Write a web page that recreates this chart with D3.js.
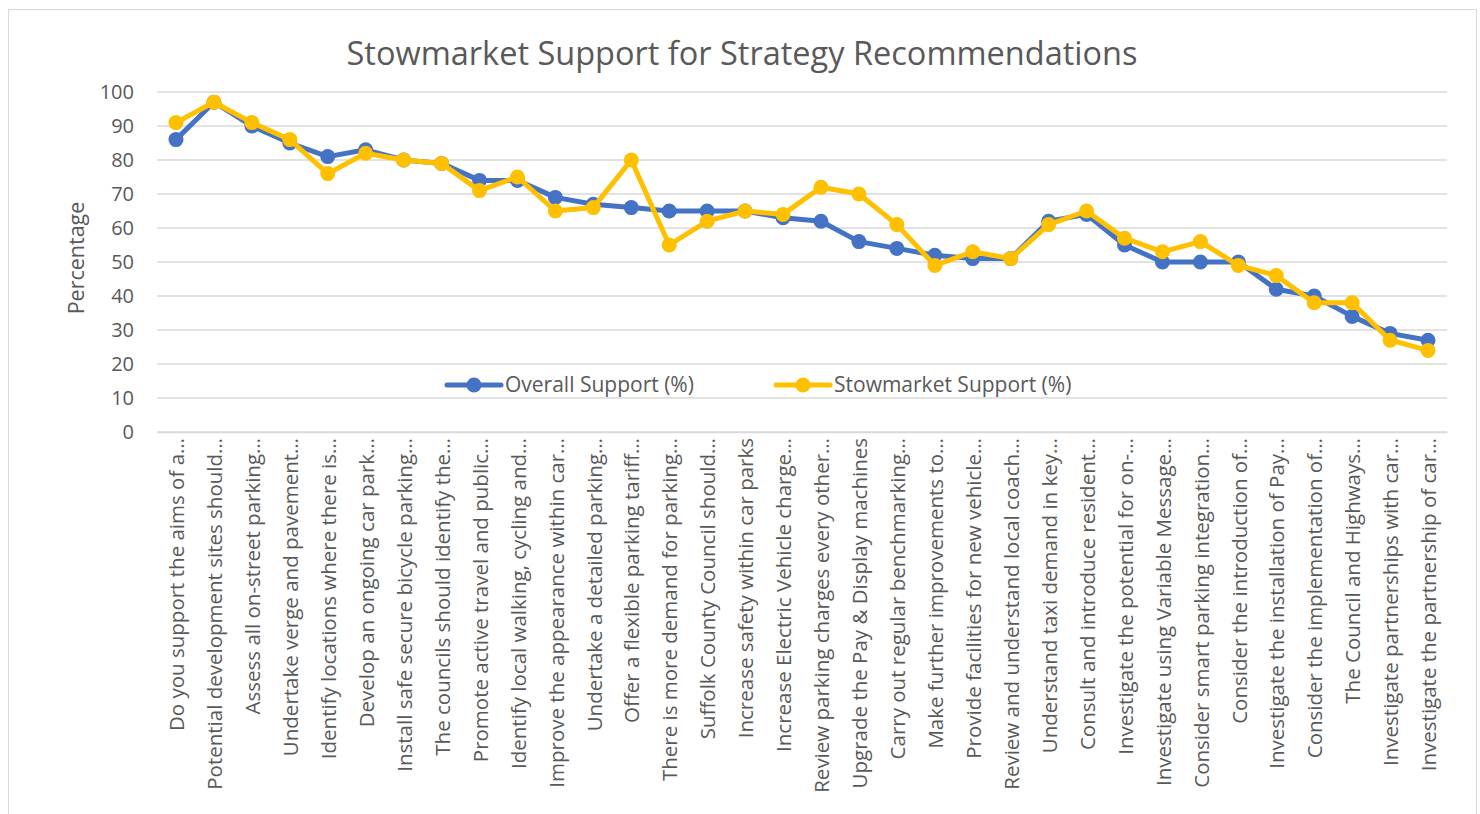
<!DOCTYPE html>
<html>
<head>
<meta charset="utf-8">
<script src="https://cdn.jsdelivr.net/npm/d3@7"></script>
<style>
  body { margin: 0; background: #fff; }
  svg { font-family: "Open Sans", sans-serif; }
</style>
</head>
<body>
<svg id="chart" width="1480" height="814"></svg>
<script>
// recommendations, in the order they appear on the x axis
const categories = [
    "Do you support the aims of a…",
    "Potential development sites should…",
    "Assess all on-street parking…",
    "Undertake verge and pavement…",
    "Identify locations where there is…",
    "Develop an ongoing car park…",
    "Install safe secure bicycle parking…",
    "The councils should identify the…",
    "Promote active travel and public…",
    "Identify local walking, cycling and…",
    "Improve the appearance within car…",
    "Undertake a detailed parking…",
    "Offer a flexible parking tariff…",
    "There is more demand for parking…",
    "Suffolk County Council should…",
    "Increase safety within car parks",
    "Increase Electric Vehicle charge…",
    "Review parking charges every other…",
    "Upgrade the Pay & Display machines",
    "Carry out regular benchmarking…",
    "Make further improvements to…",
    "Provide facilities for new vehicle…",
    "Review and understand local coach…",
    "Understand taxi demand in key…",
    "Consult and introduce resident…",
    "Investigate the potential for on-…",
    "Investigate using Variable Message…",
    "Consider smart parking integration…",
    "Consider the introduction of…",
    "Investigate the installation of Pay…",
    "Consider the implementation of…",
    "The Council and Highways…",
    "Investigate partnerships with car…",
    "Investigate the partnership of car…"
];

const overallSupport = [86, 97, 90, 85, 81, 83, 80, 79, 74, 74, 69, 67, 66, 65, 65, 65, 63,
    62, 56, 54, 52, 51, 51, 62, 64, 55, 50, 50, 50, 42, 40, 34, 29, 27];

const stowmarketSupport = [91, 97, 91, 86, 76, 82, 80, 79, 71, 75, 65, 66, 80, 55, 62, 65, 64,
    72, 70, 61, 49, 53, 51, 61, 65, 57, 53, 56, 49, 46, 38, 38, 27, 24];

const seriesNames = ["Overall Support (%)", "Stowmarket Support (%)"];
const seriesColors = ["#4472C4", "#FFC000"];
const yTicks = [0, 10, 20, 30, 40, 50, 60, 70, 80, 90, 100];

const svg = d3.select("#chart");
const width = 1480, height = 814;
const margin = {top: 92, right: 33, bottom: 382, left: 157};
const plotW = width - margin.left - margin.right;
const plotH = height - margin.top - margin.bottom;
const textColor = "#595959";

// outer chart border
svg.append("rect")
    .attr("x", 8.5).attr("y", 9.5)
    .attr("width", 1468).attr("height", 812)
    .attr("fill", "none")
    .attr("stroke", "#d9d9d9");

svg.append("text")
    .attr("x", 742).attr("y", 65)
    .attr("text-anchor", "middle")
    .attr("font-size", 32.5)
    .attr("fill", textColor)
    .text("Stowmarket Support for Strategy Recommendations");

const g = svg.append("g").attr("transform", `translate(${margin.left},${margin.top})`);

const x = d3.scaleBand().domain(categories).range([0, plotW]);
const y = d3.scaleLinear().domain([0, 100]).range([plotH, 0]);

// gridlines
g.selectAll("line.grid")
    .data(yTicks)
    .join("line")
    .attr("class", "grid")
    .attr("x1", 0).attr("x2", plotW)
    .attr("y1", d => y(d)).attr("y2", d => y(d))
    .attr("stroke", "#d9d9d9")
    .attr("stroke-width", 1.5);

// y axis labels
let yAxis = g.append("g")
    .call(d3.axisLeft(y).tickValues(yTicks).tickSize(0).tickPadding(23));
yAxis.select(".domain").remove();
yAxis.selectAll("text")
    .attr("font-size", 20)
    .attr("fill", textColor)
    .attr("font-family", "Open Sans, sans-serif");

svg.append("text")
    .attr("transform", `translate(84,258) rotate(-90)`)
    .attr("text-anchor", "middle")
    .attr("font-size", 21.5)
    .attr("fill", textColor)
    .text("Percentage");

// x axis labels, rotated
let xAxis = g.append("g")
    .attr("transform", `translate(0,${plotH})`)
    .call(d3.axisBottom(x).tickSize(0).tickPadding(0));
xAxis.select(".domain").attr("stroke", "#d9d9d9").attr("stroke-width", 1.5);
xAxis.selectAll("text")
    .attr("font-size", 20.5)
    .attr("fill", textColor)
    .attr("font-family", "Open Sans, sans-serif")
    .attr("text-anchor", "end")
    .attr("dy", "0.35em")
    .attr("transform", "translate(1,6) rotate(-90)")
    .attr("x", 0).attr("y", 0);

const series = [overallSupport, stowmarketSupport];
const line = d3.line()
    .x((d, i) => x(categories[i]) + x.bandwidth() / 2)
    .y(d => y(d));

series.forEach((vals, s) => {
    g.append("path")
        .datum(vals)
        .attr("d", line)
        .attr("fill", "none")
        .attr("stroke", seriesColors[s])
        .attr("stroke-width", 5)
        .attr("stroke-linejoin", "round");
    g.selectAll("circle.s" + s)
        .data(vals)
        .join("circle")
        .attr("class", "s" + s)
        .attr("cx", (d, i) => x(categories[i]) + x.bandwidth() / 2)
        .attr("cy", d => y(d))
        .attr("r", 7.5)
        .attr("fill", seriesColors[s]);
});

// legend
const legendX = [447, 776];
const legend = svg.selectAll("g.legend")
    .data(seriesNames)
    .join("g")
    .attr("class", "legend")
    .attr("transform", (d, i) => `translate(${legendX[i]},385)`);
legend.append("line")
    .attr("x1", 0).attr("x2", 54)
    .attr("stroke", (d, i) => seriesColors[i])
    .attr("stroke-width", 5)
    .attr("stroke-linecap", "round");
legend.append("circle")
    .attr("cx", 27).attr("r", 7.5)
    .attr("fill", (d, i) => seriesColors[i]);
legend.append("text")
    .attr("x", 58).attr("dy", "0.35em")
    .attr("font-size", 21)
    .attr("fill", textColor)
    .text(d => d);
</script>
</body>
</html>
